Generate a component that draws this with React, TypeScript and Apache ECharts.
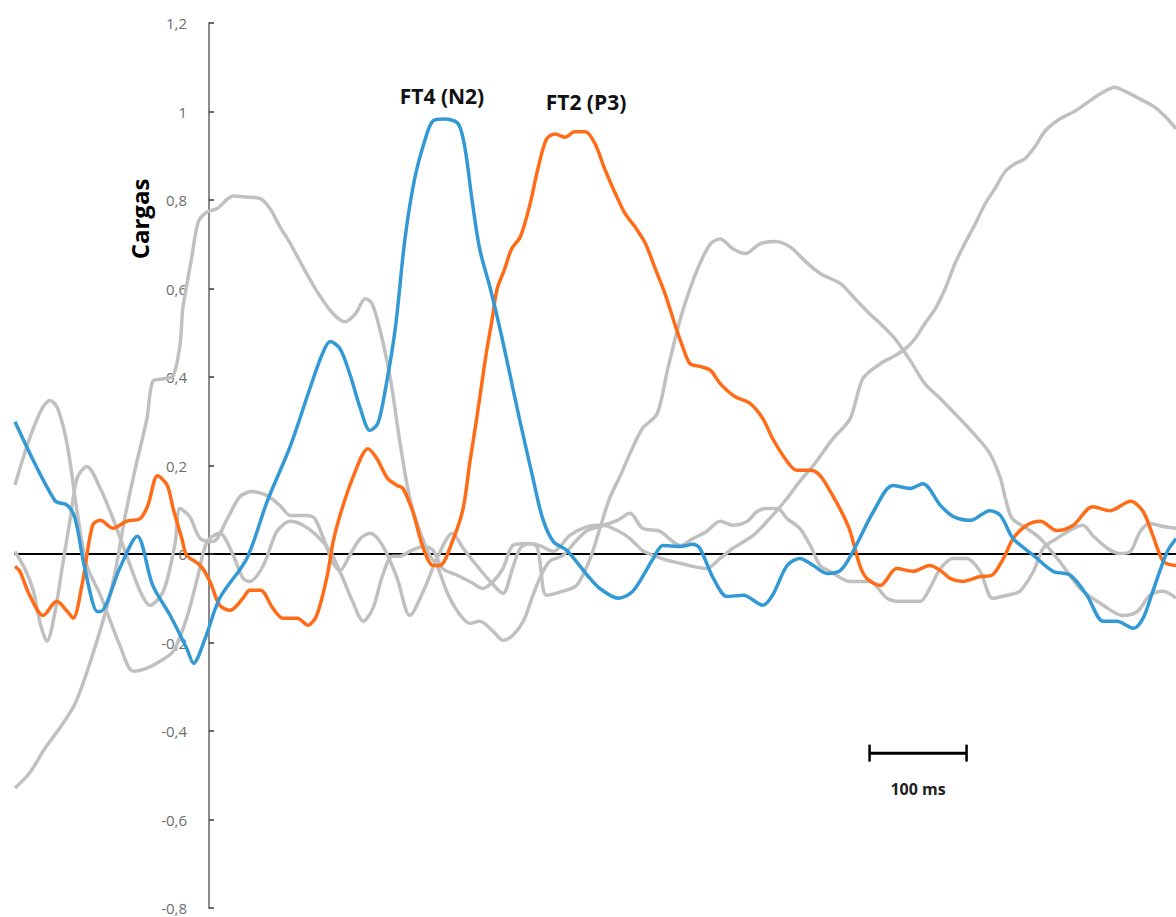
import React, { useEffect, useRef } from "react";
import * as echarts from "echarts";

// time (ms) , loading
const ft4Blue: [number, number][] = [
  [-200, 0.299], [-159, 0.121], [-146, 0.110], [-138, 0.080], [-128, -0.033], [-115, -0.130], [-112, -0.130],
  [-92, -0.032], [-74, 0.040], [-58, -0.071], [-40, -0.139], [-23, -0.213], [-16, -0.247], [-4, -0.191],
  [11, -0.100], [39, -0.010], [60, 0.119], [84, 0.245], [104, 0.374], [117, 0.453], [125, 0.480], [135, 0.464],
  [145, 0.408], [156, 0.329], [166, 0.279], [174, 0.295], [181, 0.362], [192, 0.509], [202, 0.712], [212, 0.848],
  [223, 0.938], [231, 0.979], [243, 0.983], [257, 0.972], [264, 0.916], [271, 0.803], [279, 0.690], [290, 0.600],
  [300, 0.509], [310, 0.408], [320, 0.306], [334, 0.171], [344, 0.080], [355, 0.028], [369, 0.008], [390, -0.048],
  [403, -0.078], [422, -0.100], [437, -0.084], [458, -0.010], [468, 0.019], [486, 0.017], [499, 0.022], [506, 0.013],
  [520, -0.055], [534, -0.096], [551, -0.093], [571, -0.116], [581, -0.093], [596, -0.026], [609, -0.010],
  [623, -0.026], [637, -0.044], [651, -0.037], [664, 0.006], [685, 0.096], [705, 0.155], [723, 0.148], [736, 0.159],
  [754, 0.110], [767, 0.085], [785, 0.076], [805, 0.098], [816, 0.087], [829, 0.035], [850, -0.003], [870, -0.039],
  [888, -0.048], [905, -0.093], [922, -0.152], [936, -0.152], [953, -0.168], [963, -0.145], [973, -0.084],
  [988, 0.006], [997, 0.035],
];

const ft2Orange: [number, number][] = [
  [-200, -0.028], [-195, -0.039], [-185, -0.093], [-171, -0.139], [-157, -0.107], [-146, -0.130], [-140, -0.145],
  [-131, -0.071], [-120, 0.065], [-112, 0.076], [-99, 0.058], [-85, 0.074], [-71, 0.080], [-63, 0.110], [-53, 0.177],
  [-43, 0.155], [-37, 0.103], [-28, 0.035], [-23, -0.003], [-9, -0.026], [1, -0.062], [11, -0.116], [22, -0.127],
  [35, -0.100], [42, -0.082], [53, -0.082], [66, -0.123], [76, -0.145], [91, -0.145], [102, -0.161], [111, -0.139],
  [122, -0.048], [128, 0.028], [135, 0.087], [148, 0.171], [164, 0.238], [173, 0.216], [184, 0.171], [194, 0.155],
  [200, 0.148], [210, 0.096], [221, 0.013], [231, -0.026], [238, -0.026], [252, 0.035], [262, 0.103], [269, 0.209],
  [276, 0.306], [285, 0.442], [292, 0.532], [297, 0.599], [305, 0.645], [312, 0.690], [321, 0.717], [331, 0.791],
  [339, 0.870], [348, 0.938], [357, 0.949], [367, 0.942], [377, 0.954], [388, 0.954], [398, 0.927], [408, 0.870],
  [419, 0.814], [429, 0.769], [439, 0.740], [450, 0.701], [460, 0.645], [470, 0.589], [480, 0.521], [489, 0.464],
  [496, 0.430], [506, 0.424], [517, 0.415], [527, 0.385], [542, 0.356], [558, 0.340], [571, 0.306], [581, 0.261],
  [596, 0.209], [606, 0.189], [620, 0.189], [630, 0.177], [643, 0.132], [654, 0.087], [661, 0.051], [671, -0.026],
  [678, -0.055], [692, -0.071], [709, -0.033], [726, -0.039], [743, -0.026], [754, -0.037], [764, -0.055],
  [777, -0.062], [795, -0.051], [807, -0.048], [819, -0.010], [829, 0.035], [843, 0.065], [857, 0.074], [874, 0.053],
  [891, 0.065], [911, 0.107], [929, 0.098], [950, 0.119], [963, 0.096], [973, 0.042], [984, -0.017], [997, -0.026],
];

const grayA: [number, number][] = [
  [-200, -0.529], [-185, -0.495], [-169, -0.439], [-154, -0.394], [-138, -0.338], [-123, -0.248], [-107, -0.134],
  [-97, -0.044], [-87, 0.080], [-76, 0.193], [-64, 0.306], [-58, 0.390], [-47, 0.396], [-37, 0.403], [-30, 0.471],
  [-27, 0.555], [-23, 0.607], [-18, 0.668], [-11, 0.751], [-2, 0.773], [8, 0.780], [25, 0.809], [37, 0.807],
  [53, 0.803], [63, 0.780], [73, 0.740], [84, 0.701], [99, 0.640], [114, 0.584], [128, 0.543], [140, 0.525],
  [151, 0.543], [161, 0.577], [168, 0.566], [176, 0.509], [187, 0.396], [197, 0.250], [207, 0.126], [218, 0.047],
  [228, -0.005], [235, -0.026], [245, -0.084], [256, -0.129], [269, -0.157], [279, -0.152], [293, -0.175],
  [303, -0.195], [313, -0.184], [324, -0.152], [334, -0.093], [341, -0.055], [351, -0.017], [365, -0.003],
  [379, 0.031], [390, 0.053], [403, 0.062], [421, 0.076], [434, 0.092], [447, 0.058], [465, 0.051], [486, 0.019],
  [499, 0.035], [513, 0.051], [527, 0.074], [540, 0.065], [555, 0.074], [565, 0.096], [575, 0.103], [586, 0.103],
  [596, 0.080], [609, 0.058], [620, 0.019], [630, -0.026], [640, -0.039], [661, -0.062], [681, -0.062],
  [699, -0.100], [712, -0.107], [733, -0.107], [743, -0.078], [754, -0.033], [767, -0.010], [781, -0.010],
  [795, -0.039], [808, -0.100], [823, -0.093], [836, -0.084], [850, -0.039], [860, 0.013], [874, 0.035],
  [891, 0.058], [901, 0.065], [911, 0.042], [926, 0.013], [939, 0.001], [950, 0.006], [960, 0.051], [970, 0.069],
  [984, 0.062], [997, 0.058],
];

const grayB: [number, number][] = [
  [-200, 0.156], [-185, 0.261], [-172, 0.329], [-164, 0.347], [-156, 0.329], [-146, 0.245], [-136, 0.096],
  [-126, -0.026], [-112, -0.093], [-92, -0.206], [-78, -0.265], [-64, -0.258], [-51, -0.243], [-37, -0.220],
  [-23, -0.145], [-12, -0.055], [-2, 0.028], [11, 0.047], [25, -0.003], [35, -0.055], [42, -0.062], [56, -0.026],
  [70, 0.051], [84, 0.074], [97, 0.065], [111, 0.042], [125, 0.006], [138, -0.055], [148, -0.107], [159, -0.152],
  [169, -0.123], [179, -0.048], [189, -0.005], [197, -0.005], [207, 0.006], [221, 0.017], [231, 0.008],
  [241, -0.033], [256, -0.048], [272, -0.066], [282, -0.078], [293, -0.062], [303, -0.033], [313, 0.019],
  [326, 0.024], [338, 0.017], [348, -0.093], [365, -0.084], [379, -0.071], [393, -0.010], [403, 0.058],
  [413, 0.126], [424, 0.177], [434, 0.227], [447, 0.284], [462, 0.317], [473, 0.419], [486, 0.532], [496, 0.600],
  [506, 0.656], [517, 0.701], [527, 0.712], [540, 0.690], [553, 0.679], [568, 0.701], [584, 0.706], [599, 0.694],
  [614, 0.663], [630, 0.634], [651, 0.611], [666, 0.577], [681, 0.543], [692, 0.521], [707, 0.487], [723, 0.437],
  [738, 0.385], [754, 0.351], [774, 0.306], [790, 0.268], [805, 0.227], [816, 0.171], [821, 0.126], [828, 0.080],
  [843, 0.058], [857, 0.035], [877, -0.017], [898, -0.078], [922, -0.116], [942, -0.139], [957, -0.130],
  [970, -0.093], [984, -0.084], [997, -0.100],
];

const grayC: [number, number][] = [
  [-200, 0.006], [-190, -0.033], [-181, -0.084], [-174, -0.157], [-167, -0.197], [-159, -0.134], [-151, -0.026],
  [-143, 0.080], [-136, 0.171], [-126, 0.198], [-112, 0.148], [-99, 0.080], [-85, -0.003], [-71, -0.084],
  [-61, -0.116], [-47, -0.084], [-35, 0.024], [-30, 0.103], [-20, 0.085], [-9, 0.035], [4, 0.028], [19, 0.080],
  [32, 0.130], [45, 0.141], [60, 0.132], [73, 0.110], [84, 0.087], [101, 0.087], [109, 0.080], [118, 0.035],
  [128, -0.021], [135, -0.037], [145, -0.003], [156, 0.035], [166, 0.047], [179, 0.019], [194, -0.055],
  [207, -0.139], [221, -0.084], [235, -0.010], [251, 0.047], [262, 0.013], [276, -0.026], [290, -0.062],
  [303, -0.089], [313, -0.032], [321, 0.013], [331, 0.024], [341, 0.019], [355, 0.006], [372, 0.042], [390, 0.062],
  [406, 0.065], [421, 0.053], [434, 0.035], [447, 0.008], [458, -0.003], [472, -0.014], [486, -0.021],
  [499, -0.028], [513, -0.033], [527, -0.010], [540, 0.013], [561, 0.042], [578, 0.080], [596, 0.126], [609, 0.164],
  [623, 0.200], [643, 0.260], [661, 0.306], [674, 0.396], [692, 0.430], [707, 0.448], [718, 0.464], [728, 0.487],
  [738, 0.521], [749, 0.555], [759, 0.600], [769, 0.656], [779, 0.701], [790, 0.746], [800, 0.791], [810, 0.825],
  [821, 0.865], [831, 0.882], [841, 0.893], [852, 0.922], [862, 0.956], [877, 0.983], [893, 1.001], [908, 1.024],
  [919, 1.040], [934, 1.055], [944, 1.046], [960, 1.028], [975, 1.010], [986, 0.988], [997, 0.961],
];

const yTicks = { min: -0.8, max: 1.2, step: 0.2 };
const xRange = { min: -200, max: 1000 };
const scaleBar: [number, number][] = [[681, -0.45], [781, -0.45]];
const labels = { axis: "Cargas", ft4: "FT4 (N2)", ft2: "FT2 (P3)", scale: "100 ms" };

const BLUE = "#3399d5";
const ORANGE = "#ff6c17";
const GRAY = "#c0c0c0";

const GRID_LEFT = 15;
const GRID_WIDTH = 1164;

export default function App() {
  const ref = useRef<HTMLDivElement>(null);
  useEffect(() => {
    if (!ref.current) return;
    const chart = echarts.init(ref.current, undefined, { renderer: "svg" });
    const lineSeries = (name: string, data: [number, number][], color: string, z: number) => ({
      name,
      type: "line",
      data,
      smooth: 0.3,
      showSymbol: false,
      symbol: "none",
      z,
      lineStyle: { color, width: 3.5 },
      emphasis: { disabled: true },
    });
    // y axis sits where time = 0 along the x axis
    const yAxisOffset = -((0 - xRange.min) / (xRange.max - xRange.min)) * GRID_WIDTH;
    chart.setOption({
      animation: false,
      backgroundColor: "#ffffff",
      grid: {
        left: GRID_LEFT,
        top: 23,
        width: GRID_WIDTH,
        height: 885,
        containLabel: false,
        outerBoundsMode: "none",
      },
      xAxis: {
        type: "value",
        min: xRange.min,
        max: xRange.max,
        axisLine: { show: true, onZero: true, lineStyle: { color: "#000", width: 2 } },
        axisTick: { show: false },
        axisLabel: { show: false },
        splitLine: { show: false },
      },
      yAxis: {
        type: "value",
        position: "left",
        offset: yAxisOffset,
        min: yTicks.min,
        max: yTicks.max,
        interval: yTicks.step,
        axisLine: { show: true, onZero: false, lineStyle: { color: "#8a8a8a", width: 2 } },
        axisTick: { show: true, inside: true, length: 5, lineStyle: { color: "#3a3a3a", width: 1.5 } },
        axisLabel: {
          margin: 22,
          color: "#6e6e6e",
          fontSize: 15,
          fontFamily: "Open Sans",
          formatter: (v: number) => String(Math.round(v * 10) / 10).replace(".", ","),
        },
        splitLine: { show: false },
      },
      series: [
        lineSeries("FT-a", grayA, GRAY, 2),
        lineSeries("FT-b", grayB, GRAY, 2),
        lineSeries("FT-c", grayC, GRAY, 2),
        lineSeries("FT2", ft2Orange, ORANGE, 3),
        lineSeries("FT4", ft4Blue, BLUE, 4),
        {
          name: "scale",
          type: "line",
          data: scaleBar,
          symbol: "rect",
          symbolSize: [2.5, 17],
          showSymbol: true,
          itemStyle: { color: "#000" },
          lineStyle: { color: "#000", width: 3 },
          z: 5,
          emphasis: { disabled: true },
        },
      ],
      graphic: [
        {
          type: "text",
          x: 139,
          y: 219,
          rotation: Math.PI / 2,
          style: {
            text: labels.axis,
            font: 'bold 24px "Open Sans"',
            fill: "#000",
            textAlign: "center",
            textVerticalAlign: "middle",
            align: "center",
            verticalAlign: "middle",
          },
        },
        {
          type: "text",
          x: 442,
          y: 96,
          style: {
            text: labels.ft4,
            font: 'bold 21px "Open Sans"',
            fill: "#111",
            textAlign: "center",
            textVerticalAlign: "middle",
            align: "center",
            verticalAlign: "middle",
          },
        },
        {
          type: "text",
          x: 586,
          y: 102,
          style: {
            text: labels.ft2,
            font: 'bold 21px "Open Sans"',
            fill: "#111",
            textAlign: "center",
            textVerticalAlign: "middle",
            align: "center",
            verticalAlign: "middle",
          },
        },
        {
          type: "text",
          x: 918,
          y: 789,
          style: {
            text: labels.scale,
            font: 'bold 16px "Open Sans"',
            fill: "#222",
            textAlign: "center",
            textVerticalAlign: "middle",
            align: "center",
            verticalAlign: "middle",
          },
        },
      ],
    });
    return () => chart.dispose();
  }, []);
  return (
    <div
      ref={ref}
      style={{ position: "absolute", left: 0, top: 0, width: 1176, height: 917, background: "#fff" }}
    />
  );
}
